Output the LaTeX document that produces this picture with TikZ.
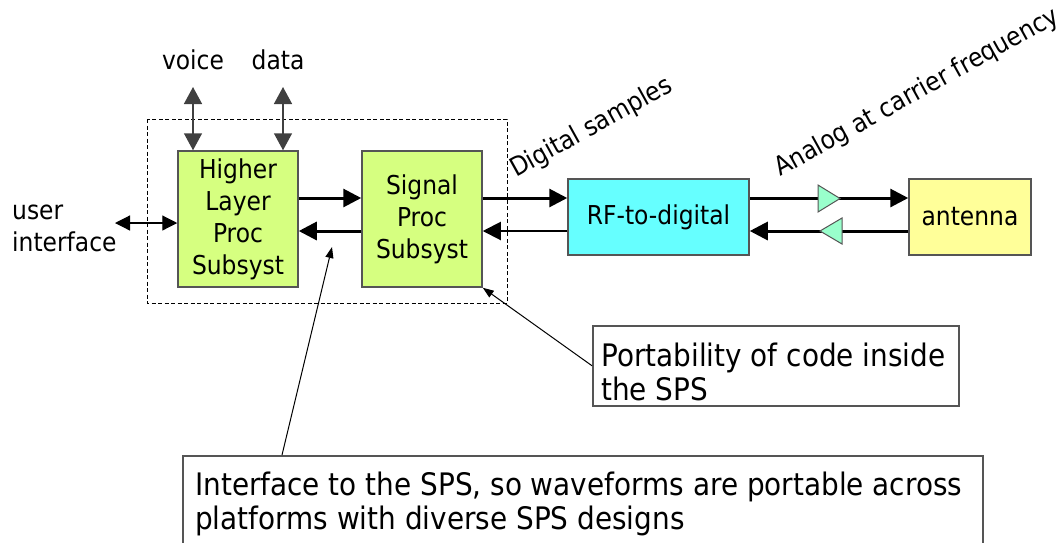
\documentclass[tikz,border=0pt]{standalone}
\usepackage{fontspec}
\setmainfont{DejaVu Sans}[FakeStretch=0.9]
\usetikzlibrary{arrows.meta}
\definecolor{blockgreen}{RGB}{214,255,128}
\definecolor{rfcyan}{RGB}{102,255,255}
\definecolor{antyellow}{RGB}{255,255,153}
\definecolor{ampgreen}{RGB}{153,255,204}
\definecolor{edgegray}{RGB}{85,85,85}
\tikzset{
  block/.style={draw=edgegray, line width=1.5pt, inner sep=0pt, align=center,
    font=\fontsize{26}{32}\selectfont},
  lbl/.style={inner sep=0pt, font=\fontsize{26}{32}\selectfont},
  calltext/.style={inner sep=0pt, align=left, font=\fontsize{31}{34}\selectfont},
  callbox/.style={draw=edgegray, line width=1.5pt, fill=white, inner sep=0pt, anchor=north west},
  bigarrow/.style={line width=3pt, -{Triangle[length=18pt,width=18pt]}},
  midarrow/.style={line width=2pt, -{Triangle[length=18pt,width=18pt]}},
  biarrow/.style={line width=1.5pt, draw=black!75, {Triangle[length=17pt,width=18pt]}-{Triangle[length=17pt,width=18pt]}},
  uiarrow/.style={line width=1.2pt, {Triangle[length=15pt,width=15pt]}-{Triangle[length=15pt,width=15pt]}},
  pointer/.style={line width=1pt, -{Triangle[length=11pt,width=8pt]}},
  amp/.style={draw=edgegray, line width=1pt, fill=ampgreen},
}
\begin{document}
\begin{tikzpicture}[x=1pt,y=-1pt]
\useasboundingbox (0,0) rectangle (1059,542);

% SPS dashed boundary
\draw[dash pattern=on 4pt off 2.5pt, line width=1pt] (147,119) rectangle (507,303);

% blocks
\node[block, fill=blockgreen, minimum width=120pt, minimum height=136pt] (hl) at (238,219) {Higher\\Layer\\Proc\\Subsyst};
\node[block, fill=blockgreen, minimum width=120pt, minimum height=136pt] (sp) at (422,219) {Signal\\Proc\\Subsyst};
\node[block, fill=rfcyan, minimum width=181pt, minimum height=76pt] (rf) at (658.5,217) {RF-to-digital};
\node[block, fill=antyellow, minimum width=122pt, minimum height=76pt] (ant) at (970,217) {antenna};

% levels
\coordinate (up) at (0,198);
\coordinate (dn) at (0,231);

% thick arrows
\draw[bigarrow] (hl.east |- up) -- (sp.west |- up);
\draw[bigarrow] (sp.west |- dn) -- (hl.east |- dn);
\draw[bigarrow] (sp.east |- up) -- (rf.west |- up);
\draw[midarrow] (rf.west |- dn) -- (sp.east |- dn);
\draw[bigarrow] (rf.east |- up) -- (ant.west |- up);
\draw[bigarrow] (ant.west |- dn) -- (rf.east |- dn);

% amplifiers
\draw[amp] (818,185) -- (840,198.5) -- (818,212) -- cycle;
\draw[amp] (842,218) -- (820,231) -- (842,244) -- cycle;

% voice / data
\node[lbl, anchor=base] (voice) at (193,69) {voice};
\node[lbl, anchor=base] (data) at (278,69) {data};
\coordinate (vtop) at (193,87);
\coordinate (dtop) at (283,87);
\draw[biarrow] (vtop) -- (vtop |- hl.north);
\draw[biarrow] (dtop) -- (dtop |- hl.north);

% user interface
\node[lbl, align=left, anchor=north west] (ui) at (12,205) {user\\interface};
\coordinate (uil) at (115,223);
\draw[uiarrow] (uil) -- (uil -| hl.west);

% rotated labels
\node[lbl, anchor=base west, rotate=29] (dig) at (516,178) {Digital samples};
\node[lbl, anchor=base west, rotate=29] (ana) at (780,177) {Analog at carrier frequency};

% callouts
\node[callbox, minimum width=366pt, minimum height=80pt] (port) at (592,325) {};
\node[calltext, anchor=north west] (porttext) at (601,342.5) {Portability of code inside\\the SPS};
\draw[pointer] (port.west) -- (sp.south east);

\node[callbox, minimum width=800pt, minimum height=110pt] (iface) at (182,455) {};
\node[calltext, anchor=north west] (ifacetext) at (195,471.5) {Interface to the SPS, so waveforms are portable across\\platforms with diverse SPS designs};
\coordinate (itip) at (332,247);
\draw[pointer] ([xshift=100pt]iface.north west) -- (itip);
\end{tikzpicture}
\end{document}
